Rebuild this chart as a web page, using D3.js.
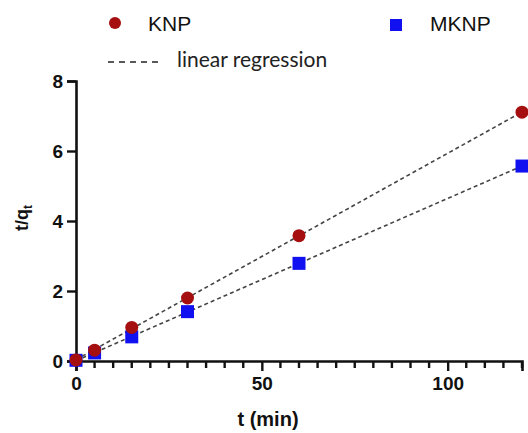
<!DOCTYPE html>
<meta charset="utf-8">
<script src="https://d3js.org/d3.v7.min.js"></script>
<style>
  body { margin: 0; background: #fff; }
  text { font-family: Arial, "Liberation Sans", sans-serif; }
</style>
<div id="chart"></div>
<script>
  // data
  const times = [0, 5, 15, 30, 60, 120];
  const knp = [0.03, 0.31, 0.96, 1.8, 3.58, 7.11];
  const mknp = [0.02, 0.23, 0.69, 1.41, 2.79, 5.57];
  const yTicks = [0, 2, 4, 6, 8];
  const xTicks = [0, 50, 100];
  const xMinor = [5, 10, 15, 20, 25, 30, 35, 40, 45, 55, 60, 65, 70, 75, 80, 85, 90, 95, 105, 110, 115, 120];

  const W = 528, H = 433;
  const svg = d3.select("#chart").append("svg")
    .attr("width", W).attr("height", H);

  const x = d3.scaleLinear().domain([0, 120]).range([76, 522]);
  const y = d3.scaleLinear().domain([0, 8]).range([361, 81]);

  // least-squares fit for the dashed lines
  function fit(xs, ys) {
    const mx = d3.mean(xs), my = d3.mean(ys);
    let num = 0, den = 0;
    xs.forEach((v, i) => { num += (v - mx) * (ys[i] - my); den += (v - mx) ** 2; });
    const b = num / den;
    return [b, my - b * mx];
  }

  const series = [
    {name: "KNP", vals: knp, color: "#a50f0f", shape: "circle"},
    {name: "MKNP", vals: mknp, color: "#1010f0", shape: "square"}
  ];

  // regression lines
  series.forEach(s => {
    const [b, a] = fit(times, s.vals);
    svg.append("line")
      .attr("x1", x(0)).attr("y1", y(a))
      .attr("x2", x(120)).attr("y2", y(a + b * 120))
      .attr("stroke", "#444").attr("stroke-width", 1.6)
      .attr("stroke-dasharray", "4,3");
  });

  // y axis
  svg.append("g").attr("transform", `translate(${x(0)},0)`)
    .call(d3.axisLeft(y).tickValues(yTicks).tickSize(9).tickPadding(4).tickFormat(d3.format("d")));
  // x axis, major ticks
  svg.append("g").attr("transform", `translate(0,${y(0)})`)
    .call(d3.axisBottom(x).tickValues(xTicks).tickSize(10).tickPadding(6).tickFormat(d3.format("d")));

  svg.selectAll(".domain").attr("stroke", "#111").attr("stroke-width", 2.6);
  svg.selectAll(".tick line").attr("stroke", "#111").attr("stroke-width", 2.4);
  svg.selectAll(".tick text")
    .attr("fill", "#111").style("font-size", "19px").style("font-weight", "bold");

  // minor ticks on x
  svg.append("g").attr("transform", `translate(0,${y(0)})`)
    .selectAll("line").data(xMinor).join("line")
    .attr("x1", d => x(d)).attr("x2", d => x(d))
    .attr("y1", 0).attr("y2", 7)
    .attr("stroke", "#111").attr("stroke-width", 2.4);

  // markers (MKNP first, KNP on top)
  series.slice().reverse().forEach(s => {
    const pts = times.map((t, i) => [t, s.vals[i]]);
    if (s.shape === "circle") {
      svg.selectAll(null).data(pts).join("circle")
        .attr("cx", d => x(d[0])).attr("cy", d => y(d[1]))
        .attr("r", 6.5).attr("fill", s.color);
    } else {
      svg.selectAll(null).data(pts).join("rect")
        .attr("x", d => x(d[0]) - 6.5).attr("y", d => y(d[1]) - 6.5)
        .attr("width", 13).attr("height", 13).attr("fill", s.color);
    }
  });

  // axis titles
  const yl = svg.append("text")
    .attr("transform", "translate(28,218) rotate(-90)")
    .attr("text-anchor", "middle")
    .style("font-size", "18px").style("font-weight", "bold").attr("fill", "#111");
  yl.append("tspan").text("t/q");
  yl.append("tspan").text("t").attr("dy", 4).style("font-size", "12px");

  svg.append("text").attr("x", 268).attr("y", 426)
    .attr("text-anchor", "middle")
    .style("font-size", "20px").style("font-weight", "bold").attr("fill", "#111")
    .text("t (min)");

  // legend
  svg.append("circle").attr("cx", 115).attr("cy", 23).attr("r", 6).attr("fill", "#a50f0f");
  svg.append("text").attr("x", 148).attr("y", 31).style("font-size", "21px").attr("fill", "#111").text("KNP");
  svg.append("rect").attr("x", 390).attr("y", 19).attr("width", 12).attr("height", 12).attr("fill", "#1010f0");
  svg.append("text").attr("x", 430).attr("y", 31).style("font-size", "21px").attr("fill", "#111").text("MKNP");
  svg.append("line").attr("x1", 108).attr("x2", 161).attr("y1", 62).attr("y2", 62)
    .attr("stroke", "#222").attr("stroke-width", 1.6).attr("stroke-dasharray", "6,5");
  svg.append("text").attr("x", 177).attr("y", 67)
    .style("font-family", "Lato, sans-serif").style("font-size", "21px").attr("fill", "#222")
    .text("linear regression");
</script>
